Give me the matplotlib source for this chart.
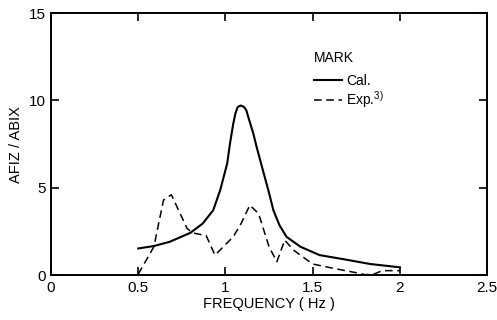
import numpy as np
import matplotlib.pyplot as plt

plt.rcParams['font.family'] = ['Liberation Sans', 'DejaVu Sans']
plt.rcParams['mathtext.fontset'] = 'custom'
plt.rcParams['mathtext.rm'] = 'Liberation Sans'

# calculated response (solid)
f_cal = [0.50, 0.59, 0.68, 0.80, 0.87, 0.93, 0.97, 0.99, 1.01, 1.026,
         1.045, 1.057, 1.070, 1.088, 1.107, 1.12, 1.131, 1.16, 1.179,
         1.22, 1.246, 1.275, 1.294, 1.31, 1.35, 1.43, 1.54, 1.68, 1.83,
         2.00]
a_cal = [1.52, 1.66, 1.90, 2.42, 2.95, 3.71, 4.86, 5.62, 6.38, 7.52,
         8.67, 9.24, 9.62, 9.71, 9.62, 9.43, 9.05, 8.10, 7.33,
         5.81, 4.86, 3.71, 3.24, 2.85, 2.19, 1.62, 1.14, 0.90, 0.63,
         0.44]

# experiment (dashed)
f_exp = [0.50, 0.59, 0.645, 0.69, 0.78, 0.81, 0.89, 0.94, 1.045, 1.09,
         1.14, 1.19, 1.25, 1.295, 1.34, 1.39, 1.50, 1.62, 1.75, 1.80,
         1.85, 1.90, 2.00]
a_exp = [0.05, 1.62, 4.29, 4.60, 2.67, 2.42, 2.25, 1.14, 2.19, 2.95,
         4.00, 3.52, 1.62, 0.76, 2.00, 1.43, 0.63, 0.38, 0.13, 0.02,
         0.05, 0.25, 0.25]

xticks = [0, 0.5, 1, 1.5, 2, 2.5]
xtick_labels = ['0', '0.5', '1', '1.5', '2', '2.5']
yticks = [0, 5, 10, 15]

fig = plt.figure(figsize=(4.97, 3.2), dpi=100)
ax = fig.add_axes([0.1026, 0.1406, 0.8774, 0.8184])

ax.plot(f_cal, a_cal, color='black', lw=1.5, label='Cal.')
ax.plot(f_exp, a_exp, color='black', lw=1.1, ls=(0, (5, 3)), label='Exp.$^{3)}$')

ax.set_xlim(0, 2.5)
ax.set_ylim(0, 15)
ax.set_xticks(xticks)
ax.set_xticklabels(xtick_labels)
ax.set_yticks(yticks)
ax.tick_params(direction='in', length=6, width=1.2, top=True, right=True,
               labelsize=11, pad=4)
for s in ax.spines.values():
    s.set_linewidth(1.4)

ax.set_xlabel('FREQUENCY ( Hz )', fontsize=10.5, labelpad=2)
ax.set_ylabel('AFIZ / ABIX', fontsize=10.5, labelpad=4)

leg = ax.legend(loc='upper left', bbox_to_anchor=(0.59, 0.875), frameon=False,
                title='MARK', alignment='left', fontsize=10,
                title_fontsize=10, handlelength=2.0, handletextpad=0.3,
                labelspacing=0.1, borderaxespad=0)
# a bit more room between the title and the entries
leg._legend_box.sep = 6

fig.savefig('out.png', dpi=100)
